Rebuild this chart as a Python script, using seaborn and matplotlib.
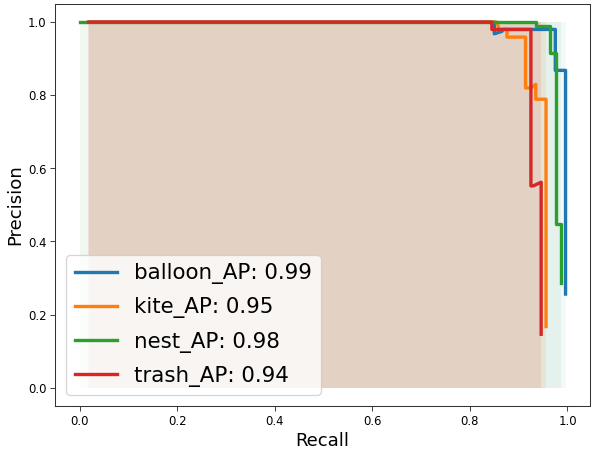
import matplotlib
matplotlib.use("Agg")
import matplotlib.pyplot as plt
import seaborn as sns

# Precision-recall curve vertices per class
class_names = ["balloon", "kite", "nest", "trash"]
ap_values = [0.99, 0.95, 0.98, 0.94]

balloon_recall = [0.02, 0.85, 0.85, 0.866, 0.866, 0.975, 0.975, 0.996, 0.996]
balloon_precision = [1.0, 1.0, 0.968, 0.975, 0.98, 0.98, 0.868, 0.868, 0.256]

kite_recall = [0.02, 0.855, 0.86, 0.876, 0.876, 0.914, 0.914, 0.925, 0.935, 0.935, 0.956, 0.956]
kite_precision = [1.0, 1.0, 0.98, 0.98, 0.959, 0.959, 0.82, 0.82, 0.83, 0.789, 0.789, 0.167]

nest_recall = [0.0, 0.935, 0.935, 0.965, 0.965, 0.976, 0.976, 0.986, 0.986]
nest_precision = [1.0, 1.0, 0.989, 0.989, 0.916, 0.916, 0.449, 0.449, 0.286]

trash_recall = [0.018, 0.845, 0.845, 0.925, 0.925, 0.93, 0.946, 0.946]
trash_precision = [1.0, 1.0, 0.98, 0.98, 0.552, 0.552, 0.562, 0.146]

recalls = [balloon_recall, kite_recall, nest_recall, trash_recall]
precisions = [balloon_precision, kite_precision, nest_precision, trash_precision]
colors = sns.color_palette("tab10", 4)
fill_alphas = [0.05, 0.1, 0.07, 0.1]

fig, ax = plt.subplots(figsize=(6.4, 4.83), dpi=93)

for name, ap, r, p, c, fa in zip(class_names, ap_values, recalls, precisions,
                                 colors, fill_alphas):
    sns.lineplot(x=r, y=p, sort=False, estimator=None, ax=ax, color=c,
                 linewidth=2.6, label=f"{name}_AP: {ap:.2f}")
    ax.fill_between(r, 0, 1, color=c, alpha=fa, linewidth=0)

ax.set_xlabel("Recall", fontsize=14, labelpad=3)
ax.set_ylabel("Precision", fontsize=14, labelpad=3)
ax.tick_params(labelsize=9, length=3.5, color="#444444")
for spine in ax.spines.values():
    spine.set_color("#333333")
ax.legend(loc="lower left", fontsize=16.5, labelspacing=0.62)

fig.subplots_adjust(left=0.093, right=0.991, top=0.991, bottom=0.096)
fig.savefig("out.png", dpi=93)
